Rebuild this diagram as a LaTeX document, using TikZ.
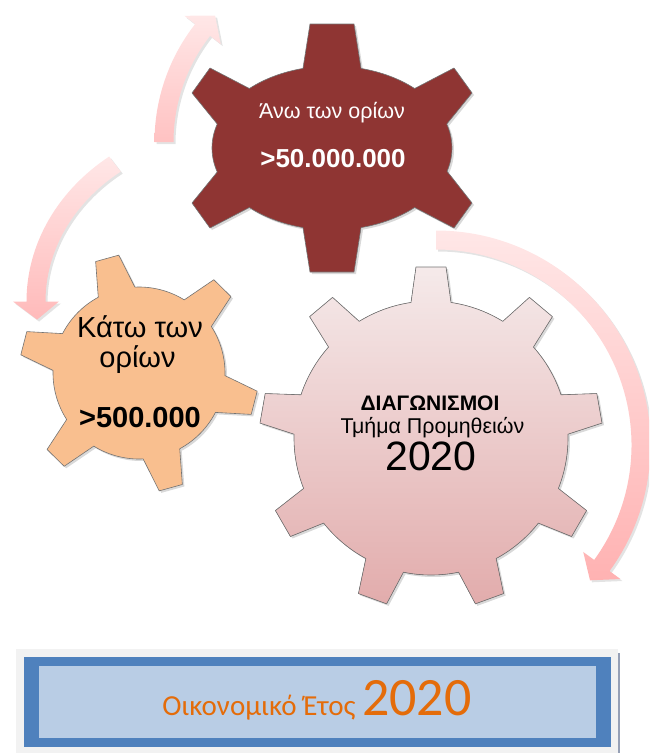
\documentclass[tikz,border=0pt]{standalone}
\usepackage{fontspec}
\setmainfont{Liberation Sans}
\newfontfamily\calibrifont{Carlito}
\usetikzlibrary{shadows}

\definecolor{topgear}{RGB}{143,53,51}
\definecolor{orangegear}{RGB}{249,191,143}
\definecolor{pinktop}{RGB}{245,234,234}
\definecolor{pinkbottom}{RGB}{226,172,172}
\definecolor{arrowlight}{RGB}{255,231,231}
\definecolor{arrowdark}{RGB}{255,178,178}
\definecolor{framegray}{RGB}{242,242,242}
\definecolor{frameblue}{RGB}{79,129,189}
\definecolor{innerblue}{RGB}{185,205,229}
\definecolor{yearorange}{RGB}{228,108,10}

% cog with equal teeth: style, teeth, first angle, body r, tip r, half base, half tip
\newcommand{\cog}[7]{%
  \pgfmathsetmacro\cogstep{360/#2}%
  \pgfmathsetmacro\cogb{asin(#6/#4)}%
  \pgfmathsetmacro\cogt{atan(#7/#5)}%
  \pgfmathsetmacro\cogR{#5*sqrt(1+(#7/#5)^2)}%
  \pgfmathtruncatemacro\coglast{#2-1}%
  \filldraw[#1] (#3-\cogb:#4) \foreach \k in {0,...,\coglast}{
    -- (#3+\k*\cogstep-\cogt:\cogR) -- (#3+\k*\cogstep+\cogt:\cogR) -- (#3+\k*\cogstep+\cogb:#4)
    arc[start angle=#3+\k*\cogstep+\cogb, end angle=#3+\k*\cogstep+\cogstep-\cogb, radius=#4]} -- cycle;
}

% bent arrow: shading, cx, cy, rx, ry, start, head base, tip
\newcommand{\bentarrow}[8]{%
  \pgfmathsetmacro\axo{#4+9.5}\pgfmathsetmacro\ayo{#5+9.5}%
  \pgfmathsetmacro\axi{#4-9.5}\pgfmathsetmacro\ayi{#5-9.5}%
  \pgfmathsetmacro\axw{#4+23}\pgfmathsetmacro\ayw{#5+23}%
  \pgfmathsetmacro\axv{#4-23}\pgfmathsetmacro\ayv{#5-23}%
  \path[arrowshade,#1,shift={(#2,#3)}] (#6:\axo\space and \ayo)
    arc[start angle=#6, end angle=#7, x radius=\axo, y radius=\ayo]
    -- (#7:\axw\space and \ayw) -- (#8:#4 and #5) -- (#7:\axv\space and \ayv) -- (#7:\axi\space and \ayi)
    arc[start angle=#7, end angle=#6, x radius=\axi, y radius=\ayi] -- cycle;
}

\begin{document}
\begin{tikzpicture}[x=1pt, y=-1pt, line join=round,
    cogline/.style={draw=black!55, line width=0.6pt,
      drop shadow={opacity=0.3, shadow xshift=2pt, shadow yshift=-2pt}},
    redcog/.style={cogline, fill=topgear},
    orangecog/.style={cogline, fill=orangegear},
    pinkcog/.style={cogline, top color=pinktop, bottom color=pinkbottom},
    arrowshade/.style={drop shadow={opacity=0.22, shadow xshift=2pt, shadow yshift=-2pt}},
    gtext/.style={anchor=base, inner sep=0pt}]
  \useasboundingbox (0,0) rectangle (649,753);
  \clip (0,0) rectangle (649,753);

  % arrows
  \bentarrow{top color=arrowlight, bottom color=arrowdark!70!arrowlight}{346}{142}{182}{182}{180}{218}{224}
  \bentarrow{top color=arrowlight, bottom color=arrowdark!85!arrowlight}{237}{301.5}{201}{173}{232.6}{180}{174}
  \bentarrow{top color=arrowlight, bottom color=arrowdark}{436}{445}{205}{205}{270}{396}{401.3}

  % gears
  \begin{scope}[shift={(431,438)}]
    \cog{pinkcog}{9}{270}{137}{171}{20}{15}
  \end{scope}
  \begin{scope}[shift={(139,373)}]
    \cog{orangecog}{6}{14.5}{86}{119}{19}{12}
  \end{scope}
  \begin{scope}[shift={(332,148)}]
    \filldraw[redcog] (256:120 and 82)
      \foreach \xa/\ya/\xb/\yb/\tb/\tn in {-22/-124/22/-124/284/313.5, 122/-80/140/-55/343/376.5,
        140/55/122/80/46.5/76, 22/124/-22/124/104/133.5, -122/80/-140/55/163/197,
        -140/-55/-122/-80/226.5/256}{
        -- (\xa,\ya) -- (\xb,\yb) -- (\tb:120 and 82)
        arc[start angle=\tb, end angle=\tn, x radius=120, y radius=82]} -- cycle;
  \end{scope}

  % texts
  \node[gtext, text=white, font=\fontsize{21.5}{24}\selectfont] (upperA) at (332,118) {Άνω των ορίων};
  \node[gtext, text=white, font=\fontsize{26}{30}\selectfont\bfseries] (upperB) at (333,167) {>50.000.000};
  \node[gtext, font=\fontsize{29}{32}\selectfont] (lowerA) at (140,337) {Κάτω των};
  \node[gtext, font=\fontsize{29}{32}\selectfont] (lowerB) at (137.5,367) {ορίων};
  \node[gtext, font=\fontsize{29}{32}\selectfont\bfseries] (lowerC) at (140,427) {>500.000};
  \node[gtext, font=\fontsize{21}{24}\selectfont\bfseries] (tenderA) at (430,410) {ΔΙΑΓΩΝΙΣΜΟΙ};
  \node[gtext, font=\fontsize{21.4}{24}\selectfont] (tenderB) at (432.5,433) {Τμήμα Προμηθειών};
  \node[gtext, font=\fontsize{41}{44}\selectfont] (tenderC) at (431,470) {2020};

  % year box
  \fill[framegray] (16,649) rectangle (618,753);
  \fill[frameblue] (24,657) rectangle (611,747);
  \fill[innerblue] (39,666) rectangle (596,738);
  \draw[color={rgb,255:red,150;green,160;blue,182}, line width=1.5pt] (619,653) -- (619,753);
  \node[gtext, text=yearorange, font=\calibrifont\fontsize{29}{32}\selectfont] (year) at (317,715)
    {Οικονομικό Έτος {\fontsize{54}{56}\selectfont 2020}};
\end{tikzpicture}
\end{document}
